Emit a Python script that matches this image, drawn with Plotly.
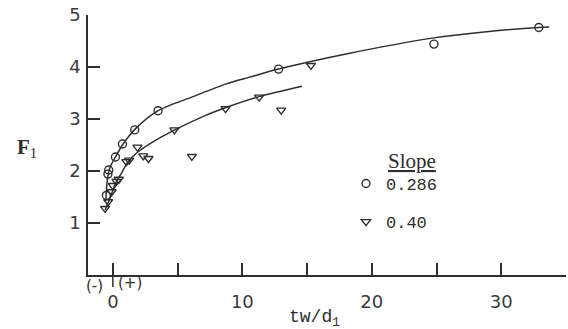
import plotly.graph_objects as go

# ---- data ----
circle_x = [-0.5, -0.38, -0.32, 0.2, 0.74, 1.69, 3.49, 12.8, 24.8, 32.9]
circle_y = [1.53, 1.94, 2.02, 2.27, 2.52, 2.79, 3.16, 3.96, 4.44, 4.76]

tri_x = [-0.6, -0.36, -0.1, 0.0, 0.28, 0.46, 1.05, 1.26, 1.9, 2.35, 2.75, 4.75, 6.1, 8.7, 11.3, 13.0, 15.3]
tri_y = [1.28, 1.41, 1.60, 1.72, 1.80, 1.84, 2.18, 2.21, 2.46, 2.29, 2.24, 2.79, 2.28, 3.20, 3.42, 3.17, 4.03]

upper_x = [-0.55, -0.4, -0.2, 0.2, 0.74, 1.7, 3.5, 6.2, 8.7, 10.5, 12.8, 18.2, 24.8, 28.5, 32.9, 33.7]
upper_y = [1.42, 1.88, 2.08, 2.27, 2.50, 2.80, 3.16, 3.43, 3.67, 3.80, 3.96, 4.26, 4.56, 4.67, 4.76, 4.77]

lower_x = [-0.6, -0.23, 0.2, 0.67, 1.18, 1.95, 3.1, 4.7, 7.08, 8.74, 11.3, 14.6]
lower_y = [1.25, 1.47, 1.76, 1.96, 2.18, 2.37, 2.56, 2.78, 3.06, 3.22, 3.43, 3.63]

x_tickvals = [0, 5, 10, 15, 20, 25, 30, 35]
x_ticktext = ["0", "", "10", "", "20", "", "30", ""]
y_tickvals = [1, 2, 3, 4, 5]
y_ticktext = ["1", "2", "3", "4", "5"]

series_names = ["0.286", "0.40"]

INK = "#2e2e2e"

fig = go.Figure()

fig.add_trace(go.Scatter(x=upper_x, y=upper_y, mode="lines", line=dict(color=INK, width=1.5, shape="spline", smoothing=0.8),
                         showlegend=False, hoverinfo="skip"))
fig.add_trace(go.Scatter(x=lower_x, y=lower_y, mode="lines", line=dict(color=INK, width=1.5, shape="spline", smoothing=0.8),
                         showlegend=False, hoverinfo="skip"))

fig.add_trace(go.Scatter(x=circle_x, y=circle_y, mode="markers", name=series_names[0], legendgroup="a",
                         marker=dict(symbol="circle-open", size=8, color=INK, line=dict(width=1.4, color=INK))))
fig.add_trace(go.Scatter(x=tri_x, y=tri_y, mode="markers", name=series_names[1], legendgroup="b",
                         marker=dict(symbol="triangle-down-open", size=8, color=INK, line=dict(width=1.4, color=INK))))

tick_font = dict(family="DejaVu Sans", size=18, color="#3a3a3a")

fig.update_xaxes(range=[-1.92, 35], tickmode="array", tickvals=x_tickvals, ticktext=x_ticktext,
                 ticks="inside", ticklen=12, tickwidth=1.5, tickcolor=INK,
                 showline=True, linecolor=INK, linewidth=1.5, showgrid=False, zeroline=False,
                 tickfont=tick_font, ticklabelstandoff=10, ticklabeloverflow="allow", automargin=False)
fig.update_yaxes(range=[0, 5], tickmode="array", tickvals=y_tickvals, ticktext=y_ticktext,
                 ticks="inside", ticklen=12, tickwidth=1.5, tickcolor=INK,
                 showline=True, linecolor=INK, linewidth=1.5, showgrid=False, zeroline=False,
                 tickfont=tick_font, ticklabelstandoff=2, ticklabeloverflow="allow", automargin=False)

# zero tick crossing below the axis
fig.add_shape(type="line", xref="x", yref="paper", x0=0, x1=0, y0=-0.046, y1=0.0,
              line=dict(color=INK, width=1.5))

annots = [
    dict(text="<b>F</b><sub>1</sub>", x=-0.128, y=0.49, xref="paper", yref="paper",
         font=dict(family="Liberation Serif", size=21, color=INK)),
    dict(text="tw/d<sub>1</sub>", x=15.6, y=-0.167, xref="x", yref="paper",
         font=dict(family="Liberation Mono", size=18, color=INK)),
    dict(text="(-)", x=-1.4, y=-0.042, xref="x", yref="paper",
         font=dict(family="DejaVu Sans", size=15, color=INK)),
    dict(text="(+)", x=1.3, y=-0.03, xref="x", yref="paper",
         font=dict(family="DejaVu Sans", size=15, color=INK)),
    dict(text="<u>Slope</u>", x=23.1, y=0.44, xref="x", yref="paper",
         font=dict(family="Liberation Serif", size=21, color=INK)),
]
for a in annots:
    fig.add_annotation(showarrow=False, xanchor="center", yanchor="middle", **a)

fig.update_layout(
    width=568, height=329,
    margin=dict(l=88, r=2, t=15, b=54),
    paper_bgcolor="white", plot_bgcolor="white",
    showlegend=True,
    legend=dict(x=(346 - 88) / 478, y=(275 - 166) / 260, xanchor="left", yanchor="top",
                font=dict(family="Liberation Mono", size=17, color=INK),
                bgcolor="rgba(0,0,0,0)", tracegroupgap=13, itemwidth=30),
)

# remove the browser's default 8px body margin so the figure fills the window
fig.write_html("out.html", config={"displayModeBar": False},
               post_script="document.body.style.margin='0px';")
